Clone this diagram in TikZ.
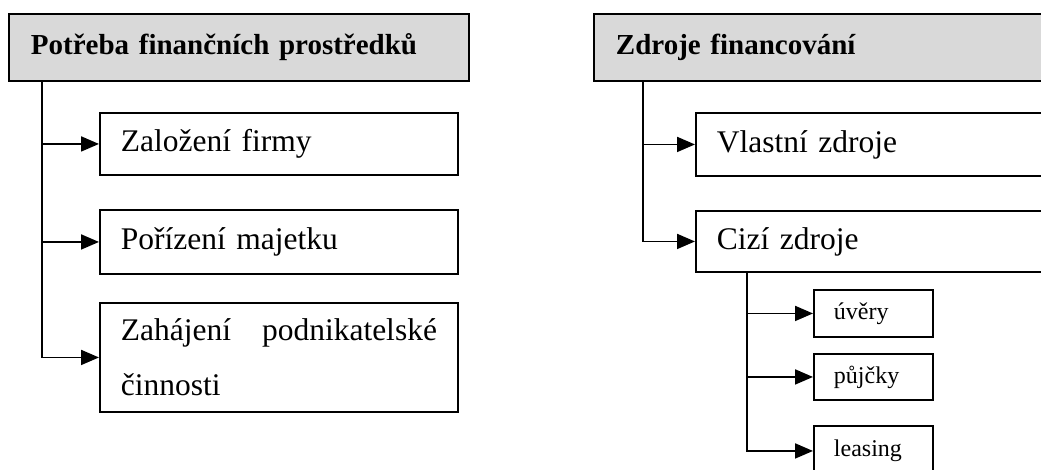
\documentclass[tikz,border=0pt]{standalone}
\usepackage{fontspec}
\setmainfont{Liberation Serif}
\usetikzlibrary{arrows.meta}
\definecolor{finInk}{HTML}{000000}
\definecolor{finGray}{HTML}{D9D9D9}
\tikzset{
  fin box/.style={draw=finInk, line width=1.9pt, fill=white, anchor=north west,
    align=left, inner xsep=21pt, inner ysep=0pt,
    font=\fontsize{31.5}{55}\selectfont},
  fin head/.style={fin box, fill=finGray, inner xsep=22pt,
    font=\fontsize{29}{35}\selectfont\bfseries},
  fin small/.style={fin box, inner xsep=20pt, font=\fontsize{24}{29}\selectfont},
  fin arrow/.style={-{Triangle[length=18pt,width=15pt]},
    draw=finInk, line width=1.9pt}
}

\begin{document}
\begin{tikzpicture}[x=1pt,y=-1pt]
  \useasboundingbox (0,0) rectangle (1041,469);
  % needs
  \node[fin head, text width=416pt, minimum height=67pt] (potreba) at (8,13) {Potřeba finančních prostředků};
  \node[fin box, text width=316pt, minimum height=62pt] (zalozeni) at (99,112) {Založení firmy};
  \node[fin box, text width=316pt, minimum height=64pt] (porizeni) at (99,209) {Pořízení majetku};
  \node[fin box, text width=316pt, minimum height=109pt] (zahajeni) at (99,302) {Zahájení\hfill podnikatelské\\činnosti};
  \foreach \n in {zalozeni,porizeni,zahajeni}
    \draw[fin arrow] ([xshift=34pt]potreba.south west) |- (\n.west);
  % sources
  \node[fin head, text width=426pt, minimum height=67pt] (zdroje) at (593,13) {Zdroje financování};
  \node[fin box, text width=328pt, minimum height=63pt] (vlastni) at (695,112) {Vlastní zdroje};
  \node[fin box, text width=328pt, minimum height=61pt] (cizi) at (695,210) {Cizí zdroje};
  \foreach \n in {vlastni,cizi}
    \draw[fin arrow] ([xshift=50pt]zdroje.south west) |- (\n.west);
  \node[fin small, text width=79pt, minimum height=47pt] (uvery) at (813,289) {úvěry};
  \node[fin small, text width=79pt, minimum height=46pt] (pujcky) at (813,353) {půjčky};
  \node[fin small, text width=79pt, minimum height=50pt] (leasing) at (813,425) {leasing};
  \foreach \n in {uvery,pujcky,leasing}
    \draw[fin arrow] ([xshift=52pt]cizi.south west) |- (\n.west);
\end{tikzpicture}
\end{document}
